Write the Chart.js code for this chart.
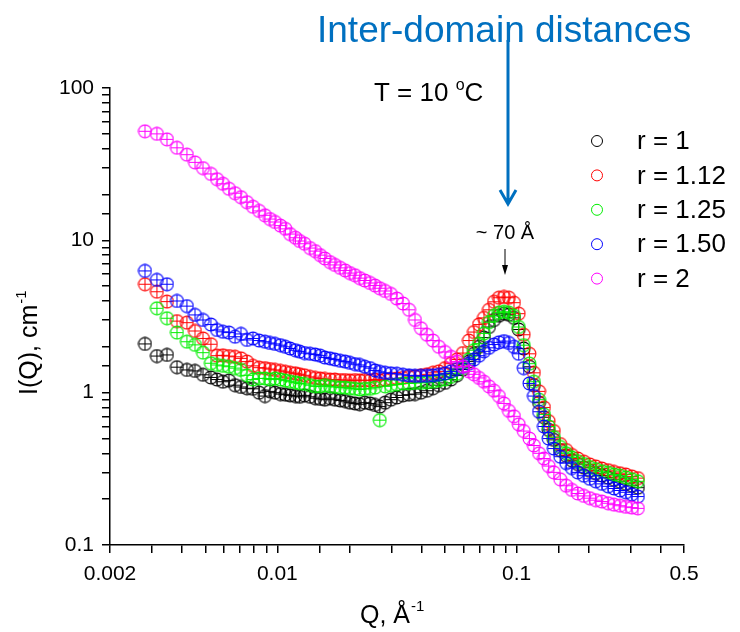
<!DOCTYPE html>
<html>
<head>
<meta charset="utf-8">
<script src="https://cdn.jsdelivr.net/npm/chart.js@4.4.1/dist/chart.umd.min.js"></script>
<style>
  body { margin: 0; background: #fff; }
</style>
</head>
<body>
<canvas id="sansChart" width="740" height="632"></canvas>
<script>
// scattering vector Q (1/A), shared by all samples
const qValues = [
  0.00280, 0.00314, 0.00346, 0.00381, 0.00419, 0.00453, 0.00489, 0.00528, 0.00560, 0.00593,
  0.00628, 0.00666, 0.00705, 0.00747, 0.00791, 0.00839, 0.00888,
  0.00932, 0.00978, 0.0103, 0.0108, 0.0113, 0.0119, 0.0124, 0.0130, 0.0137, 0.0144,
  0.0151, 0.0158, 0.0166, 0.0174, 0.0183, 0.0192, 0.0201, 0.0211, 0.0221, 0.0232,
  0.0244, 0.0256, 0.0268, 0.0282,
  0.0298, 0.0316, 0.0335, 0.0355, 0.0376, 0.0398, 0.0422, 0.0447, 0.0473, 0.0502,
  0.0531, 0.0563, 0.0596, 0.0632,
  0.0663, 0.0696, 0.0730, 0.0766, 0.0804, 0.0843, 0.0885, 0.0928, 0.0974, 0.102,
  0.107, 0.113, 0.118, 0.124, 0.130, 0.136, 0.143,
  0.152, 0.161, 0.170, 0.180, 0.191, 0.202, 0.214, 0.227, 0.241, 0.255,
  0.270, 0.286, 0.303, 0.321
];

// I(Q) in cm-1 for each ratio r
const iR1 = [
  2.09, 1.74, 1.77, 1.47, 1.41, 1.39, 1.31, 1.26, 1.22, 1.18, 1.2, 1.12, 1.09, 1.07, 1.06, 1.0, 0.95,
  1.02, 1.0, 0.98, 0.97, 0.96, 0.95, 0.94, 0.96, 0.94, 0.92, 0.91, 0.9, 0.92, 0.9, 0.89, 0.88,
  0.86, 0.85, 0.84, 0.86, 0.85, 0.83, 0.81, 0.86,
  0.9, 0.93, 0.96, 0.97, 0.98, 1.0, 1.03, 1.07, 1.12, 1.16, 1.22, 1.3, 1.42, 1.6,
  1.8, 2.0, 2.3, 2.7, 3.0, 3.2, 3.3, 3.25, 3.1, 2.6, 1.95, 1.48, 1.12, 0.86, 0.69, 0.57, 0.49,
  0.42, 0.385, 0.36, 0.34, 0.322, 0.307, 0.296, 0.286, 0.277, 0.268, 0.26, 0.252, 0.245, 0.238
];
const iR112 = [
  5.15, 4.6, 3.96, 2.95, 2.88, 2.54, 2.27, 2.08, 1.75, 1.76, 1.74, 1.72, 1.68, 1.6, 1.5, 1.46, 1.45,
  1.43, 1.41, 1.39, 1.37, 1.35, 1.34, 1.32, 1.3, 1.27, 1.25, 1.24, 1.23, 1.22, 1.22, 1.21, 1.21,
  1.2, 1.21, 1.2, 1.21, 1.2, 1.22, 1.2, 1.22,
  1.23, 1.24, 1.25, 1.27, 1.28, 1.3, 1.32, 1.35, 1.38, 1.45, 1.55, 1.65, 1.82, 2.2,
  2.5, 2.8, 3.1, 3.5, 3.95, 4.2, 4.25, 4.2, 3.9, 3.3, 2.4, 1.8, 1.35, 1.02, 0.8, 0.65, 0.56,
  0.46, 0.42, 0.39, 0.37, 0.352, 0.338, 0.328, 0.318, 0.31, 0.302, 0.296, 0.29, 0.282, 0.275
];
const iR125 = [
  null, 3.58, 3.08, 2.48, 2.16, 2.06, 1.83, 1.56, 1.52, 1.5, 1.48, 1.45, 1.41, 1.3, 1.22, 1.24, 1.24,
  1.22, 1.24, 1.22, 1.2, 1.18, 1.17, 1.15, 1.14, 1.12, 1.1, 1.1, 1.12, 1.1, 1.09, 1.08, 1.08,
  1.07, 1.06, 1.05, 1.06, 1.06, 1.08, 0.66, 1.1,
  1.12, 1.13, 1.15, 1.15, 1.16, 1.16, 1.17, 1.18, 1.2, 1.22, 1.27, 1.33, 1.45, 1.65,
  1.9, 2.1, 2.45, 2.9, 3.2, 3.35, 3.4, 3.35, 3.2, 2.7, 2.05, 1.55, 1.18, 0.9, 0.72, 0.6, 0.51,
  0.44, 0.4, 0.375, 0.355, 0.34, 0.325, 0.315, 0.305, 0.298, 0.29, 0.285, 0.278, 0.27, 0.262
];
const iR150 = [
  6.3, 5.5, 5.15, 4.0, 3.7, 3.24, 3.0, 2.8, 2.58, 2.51, 2.48, 2.33, 2.43, 2.22, 2.27, 2.2, 2.16,
  2.12, 2.09, 2.05, 2.0, 1.95, 1.9, 1.86, 1.82, 1.8, 1.78, 1.75, 1.7, 1.68, 1.65, 1.62, 1.6,
  1.57, 1.54, 1.52, 1.48, 1.45, 1.4, 1.37, 1.35,
  1.34, 1.33, 1.31, 1.3, 1.29, 1.29, 1.29, 1.3, 1.31, 1.34, 1.38, 1.43, 1.48, 1.55,
  1.65, 1.75, 1.87, 1.97, 2.07, 2.14, 2.18, 2.12, 2.0, 1.8, 1.45, 1.15, 0.95, 0.75, 0.6, 0.5, 0.43,
  0.38, 0.345, 0.32, 0.3, 0.285, 0.272, 0.262, 0.252, 0.243, 0.235, 0.228, 0.222, 0.215, 0.208
];
const iR2 = [
  52, 50, 46, 40.5, 36.5, 32.5, 29.8, 27.3, 25.2, 23.5, 21.8, 20.4, 19.2, 17.8, 16.6, 15.6, 14.6,
  13.8, 13.2, 12.5, 11.9, 11.0, 10.4, 9.9, 9.5, 8.9, 8.5, 8.0, 7.6, 7.2, 6.9, 6.6, 6.35,
  6.1, 5.9, 5.65, 5.45, 5.25, 5.05, 4.85, 4.65,
  4.45, 4.15, 3.85, 3.5, 3.0, 2.65, 2.4, 2.2, 2.0, 1.85, 1.72, 1.6, 1.48, 1.38,
  1.32, 1.25, 1.18, 1.1, 1.03, 0.95, 0.85, 0.76, 0.7, 0.62, 0.56, 0.5, 0.45, 0.4, 0.37, 0.33, 0.3,
  0.27, 0.245, 0.23, 0.218, 0.21, 0.203, 0.197, 0.193, 0.188, 0.184, 0.181, 0.178, 0.176, 0.174
];

const seriesLabels = ['r = 1', 'r = 1.12', 'r = 1.25', 'r = 1.50', 'r = 2'];
const seriesValues = [iR1, iR112, iR125, iR150, iR2];
const seriesColors = ['#000000', '#ff0000', '#00ee00', '#0000ff', '#ff00ff'];

const xTickLabels = [0.002, 0.01, 0.1, 0.5];
const yTickLabels = [0.1, 1, 10, 100];

const FONT = '"Liberation Sans", Arial, sans-serif';

function labelFor(list, v) {
    const hit = list.find(t => Math.abs(v / t - 1) < 1e-6);
    return hit === undefined ? '' : String(hit);
}

// open circle with the error-bar cross inside, like the Origin symbol
function makeMarker(color) {
    const c = document.createElement('canvas');
    c.width = 15;
    c.height = 15;
    const g = c.getContext('2d');
    g.strokeStyle = color;
    g.lineWidth = 1.1;
    g.beginPath();
    g.arc(7.5, 7.5, 6.4, 0, Math.PI * 2);
    g.stroke();
    g.lineWidth = 1;
    g.beginPath();
    g.moveTo(7.5, 1.5); g.lineTo(7.5, 13.5);
    g.moveTo(1.5, 7.5); g.lineTo(13.5, 7.5);
    g.stroke();
    return c;
}

const annotations = {
    id: 'annotations',
    afterDraw(chart) {
        const ctx = chart.ctx;
        ctx.save();
        ctx.fillStyle = '#000';
        ctx.textBaseline = 'alphabetic';
        ctx.textAlign = 'left';

        // y axis title
        ctx.save();
        ctx.translate(37, 395);
        ctx.rotate(-Math.PI / 2);
        ctx.font = '25px ' + FONT;
        ctx.fillText('I(Q), cm', 0, 0);
        let w = ctx.measureText('I(Q), cm').width;
        ctx.font = '15px ' + FONT;
        ctx.fillText('-1', w + 1, -11);
        ctx.restore();

        // x axis title
        ctx.font = '25px ' + FONT;
        ctx.fillText('Q, \u00c5', 360, 623);
        w = ctx.measureText('Q, \u00c5').width;
        ctx.font = '15px ' + FONT;
        ctx.fillText('-1', 360 + w + 1, 611);

        // legend
        seriesLabels.forEach((lab, i) => {
            const y = 141 + i * 34.4;
            ctx.strokeStyle = seriesColors[i];
            ctx.lineWidth = 1;
            ctx.beginPath();
            ctx.arc(597, y, 5.5, 0, Math.PI * 2);
            ctx.stroke();
            ctx.fillStyle = '#000';
            ctx.font = '26px ' + FONT;
            ctx.textBaseline = 'middle';
            ctx.fillText(lab, 637, y + 1);
        });
        ctx.textBaseline = 'alphabetic';

        // temperature
        ctx.font = '26px ' + FONT;
        ctx.fillText('T = 10 ', 374, 101);
        w = ctx.measureText('T = 10 ').width;
        ctx.font = '16px ' + FONT;
        ctx.fillText('o', 374 + w, 90);
        const wo = ctx.measureText('o').width;
        ctx.font = '26px ' + FONT;
        ctx.fillText('C', 374 + w + wo, 101);

        // blue call-out
        ctx.fillStyle = '#0070c0';
        ctx.font = '37px ' + FONT;
        ctx.fillText('Inter-domain distances', 317, 42);
        ctx.strokeStyle = '#0070c0';
        ctx.lineWidth = 3;
        ctx.beginPath();
        ctx.moveTo(508, 40);
        ctx.lineTo(508, 203);
        ctx.moveTo(500, 190);
        ctx.lineTo(508, 204);
        ctx.lineTo(516, 190);
        ctx.stroke();

        // peak label with small arrow
        ctx.fillStyle = '#000';
        ctx.font = '20px ' + FONT;
        ctx.textAlign = 'center';
        ctx.textBaseline = 'middle';
        ctx.fillText('~ 70 \u00c5', 505, 233);
        ctx.strokeStyle = '#000';
        ctx.lineWidth = 1;
        ctx.beginPath();
        ctx.moveTo(505, 249);
        ctx.lineTo(505, 268);
        ctx.stroke();
        ctx.beginPath();
        ctx.moveTo(502, 265);
        ctx.lineTo(508, 265);
        ctx.lineTo(505, 275);
        ctx.closePath();
        ctx.fill();

        ctx.restore();
    }
};

const ctx = document.getElementById('sansChart').getContext('2d');
Chart.defaults.font.family = FONT;

new Chart(ctx, {
    type: 'scatter',
    data: {
        datasets: seriesValues.map((vals, i) => ({
            label: seriesLabels[i],
            data: qValues.map((q, k) => ({ x: q, y: vals[k] })),
            pointStyle: makeMarker(seriesColors[i]),
            pointRadius: 7,
            borderColor: seriesColors[i],
            showLine: false,
            order: seriesValues.length - i
        }))
    },
    options: {
        responsive: false,
        animation: false,
        layout: { padding: { top: 88, right: 56, left: 0, bottom: 0 } },
        plugins: {
            legend: { display: false },
            title: { display: false },
            tooltip: { enabled: false }
        },
        scales: {
            x: {
                type: 'logarithmic',
                min: 0.002,
                max: 0.5,
                afterFit: s => { s.height = 87; },
                border: { color: '#000', width: 1.5 },
                grid: { drawOnChartArea: false, drawTicks: true, tickLength: 8, color: '#000', lineWidth: 1.5 },
                ticks: {
                    autoSkip: false,
                    maxRotation: 0,
                    padding: 9,
                    color: '#000',
                    font: { size: 21 },
                    callback: v => labelFor(xTickLabels, v)
                }
            },
            y: {
                type: 'logarithmic',
                min: 0.1,
                max: 100,
                afterFit: s => { s.width = 110; },
                border: { color: '#000', width: 1.5 },
                grid: { drawOnChartArea: false, drawTicks: true, tickLength: 8, color: '#000', lineWidth: 1.5 },
                ticks: {
                    autoSkip: false,
                    padding: 8,
                    color: '#000',
                    font: { size: 21 },
                    callback: v => labelFor(yTickLabels, v)
                }
            }
        }
    },
    plugins: [annotations]
});
</script>
</body>
</html>
